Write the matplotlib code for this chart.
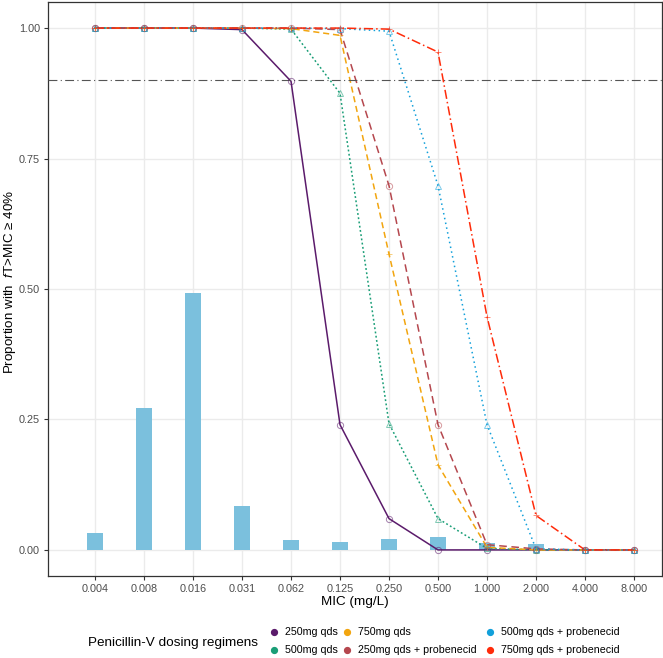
import matplotlib
matplotlib.use("Agg")
import matplotlib.pyplot as plt
from matplotlib.lines import Line2D
import numpy as np

plt.rcParams['font.family'] = ['Liberation Sans', 'DejaVu Sans']
plt.rcParams['mathtext.fontset'] = 'custom'
plt.rcParams['mathtext.it'] = 'Liberation Sans:italic'
plt.rcParams['mathtext.rm'] = 'Liberation Sans'

# -----------------------------
# Data
# -----------------------------
mic_labels = ["0.004", "0.008", "0.016", "0.031", "0.062", "0.125",
              "0.250", "0.500", "1.000", "2.000", "4.000", "8.000"]

# MIC distribution (proportion of isolates)
mic_dist = [0.033, 0.271, 0.493, 0.085, 0.019, 0.016,
            0.021, 0.024, 0.013, 0.012, 0.0, 0.0]

regimens = ["250mg qds", "500mg qds", "750mg qds",
            "250mg qds + probenecid", "500mg qds + probenecid",
            "750mg qds + probenecid"]

pta_250 = [1.0, 1.0, 1.0, 0.997, 0.898, 0.240, 0.060, 0.0, 0.0, 0.0, 0.0, 0.0]
pta_500 = [1.0, 1.0, 1.0, 1.0, 0.998, 0.875, 0.242, 0.060, 0.003, 0.0, 0.0, 0.0]
pta_750 = [1.0, 1.0, 1.0, 1.0, 0.999, 0.986, 0.567, 0.163, 0.005, 0.0, 0.0, 0.0]
pta_250p = [1.0, 1.0, 1.0, 1.0, 1.0, 0.997, 0.698, 0.240, 0.010, 0.002, 0.0, 0.0]
pta_500p = [1.0, 1.0, 1.0, 1.0, 1.0, 0.999, 0.994, 0.698, 0.240, 0.002, 0.0, 0.0]
pta_750p = [1.0, 1.0, 1.0, 1.0, 1.0, 1.0, 0.998, 0.954, 0.447, 0.066, 0.0, 0.0]

target = 0.9

# -----------------------------
# Styles
# -----------------------------
colors = ["#5B1B6B", "#1A9E77", "#F2A50F", "#B5474E", "#12A0DA", "#FF2B0A"]
styles = ["-", (0, (1.2, 1.6)), (0, (4, 2.5)), (0, (5, 3)), (0, (1, 2.2)),
          (0, (6, 2, 1, 2))]
markers = ["o", "^", "+", "o", "^", "+"]
series = [pta_250, pta_500, pta_750, pta_250p, pta_500p, pta_750p]

W, H = 663, 658
fig = plt.figure(figsize=(W / 100, H / 100), dpi=100)
ax = fig.add_axes([0.072, 0.1246, 0.926, 0.8724])

x = np.arange(1, len(mic_labels) + 1)

ax.bar(x, mic_dist, width=0.31, color="#7BC0DD", zorder=2)

for vals, c, ls, m in zip(series, colors, styles, markers):
    ax.plot(x, vals, color=c, linestyle=ls, linewidth=1.1, zorder=3)
    ax.plot(x, vals, linestyle="none", marker=m, markersize=4.5,
            markerfacecolor="none", markeredgecolor=c, markeredgewidth=0.7,
            alpha=0.55, zorder=4)

ax.axhline(target, color="#555555", linewidth=0.8,
           linestyle=(0, (8, 3, 1, 3)), zorder=3)

ax.set_xlim(0.035, 12.565)
ax.set_ylim(-0.05, 1.05)
ax.set_xticks(x)
ax.set_xticklabels(mic_labels)
ax.set_yticks([0, 0.25, 0.5, 0.75, 1.0])
ax.set_yticklabels(["0.00", "0.25", "0.50", "0.75", "1.00"])

ax.grid(True, color="#EBEBEB", linewidth=1.0, zorder=0)
ax.set_axisbelow(True)
for s in ax.spines.values():
    s.set_color("#333333")
    s.set_linewidth(0.9)
ax.tick_params(axis="both", colors="#333333", labelcolor="#4D4D4D",
               labelsize=7.8, length=3, width=0.8, pad=2.5)

ax.set_xlabel("MIC (mg/L)", fontsize=9.7, labelpad=2)
# y title placed on the figure so it stays inside the left edge
fig.text(1.5 / W, 1 - 282 / H, r"Proportion with  $\mathit{f}$T>MIC ≥ 40%",
         rotation=90, ha="left", va="center", fontsize=9.6)

# -----------------------------
# Legend (title on the left like ggplot), placed by hand
# -----------------------------
fig.text(258 / W, 1 - 643 / H, "Penicillin-V dosing regimens",
         ha="right", va="center", fontsize=9.7)

col_marker_x = [274, 347, 490]
row_y = [632, 650]
for i, (lab, c) in enumerate(zip(regimens, colors)):
    col, row = divmod(i, 2)
    mx = col_marker_x[col]
    my = row_y[row]
    fig.add_artist(Line2D([mx / W], [1 - my / H], transform=fig.transFigure,
                          linestyle="none", marker="o", markersize=4.2,
                          color=c))
    fig.text((mx + 10.7) / W, 1 - my / H, lab, ha="left", va="center",
             fontsize=7.7)

fig.savefig("out.png", dpi=100)
